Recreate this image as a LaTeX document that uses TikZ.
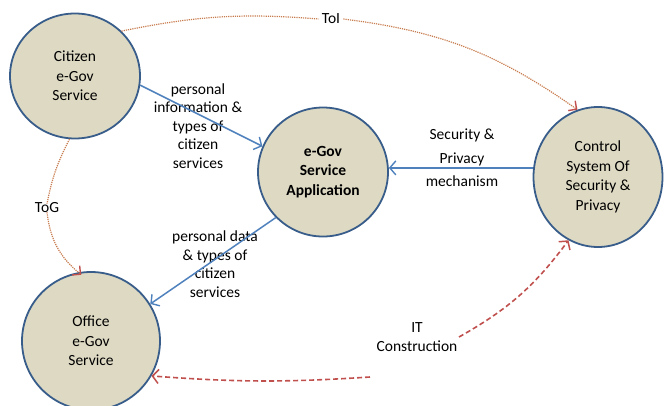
\documentclass[tikz,border=0pt]{standalone}
\usepackage{fontspec}
\setmainfont{Carlito}
\usetikzlibrary{shapes.geometric,arrows.meta}
\definecolor{fillc}{RGB}{221,217,195}
\definecolor{edgec}{RGB}{56,93,138}
\definecolor{bluel}{RGB}{79,129,189}
\definecolor{redl}{RGB}{192,80,77}
\definecolor{brownl}{RGB}{200,125,80}
\begin{document}
\begin{tikzpicture}[x=1pt,y=-1pt,
  blob/.style={ellipse, draw=edgec, fill=fillc, line width=1.8pt, inner sep=0pt, align=center, font=\fontsize{15.5}{19.5}\selectfont},
  lbl/.style={align=center, font=\fontsize{15.5}{18.5}\selectfont, inner sep=1pt},
  flow/.style={draw=bluel, line width=1.5pt, -{Straight Barb[length=6pt,width=14pt,line width=1.4pt]}},
  relation/.style={draw=brownl, line width=1.2pt, dash pattern=on 1.2pt off 1pt},
  reltip/.style={-{Straight Barb[length=6pt,width=12pt,line width=1.4pt,color=redl]}},
  build/.style={draw=redl, line width=1.6pt, dash pattern=on 5pt off 3pt},
  buildtip/.style={-{Straight Barb[length=6pt,width=14pt,line width=1.5pt]}}
]
\useasboundingbox (0,0) rectangle (664,405);

\node[blob, minimum width=130pt, minimum height=125pt] (cit) at (75,76) {Citizen\\e-Gov\\Service};
\node[blob, minimum width=130pt, minimum height=129pt] (app) at (323,172) {\bfseries e-Gov\\\bfseries Service\\\bfseries Application};
\node[blob, minimum width=129pt, minimum height=140pt] (ctl) at (598,177) {Control\\System Of\\Security \&\\Privacy};
\node[blob, minimum width=138pt, minimum height=138pt] (off) at (91,341) {Office\\e-Gov\\Service};

\node[lbl] (l1) at (198,126) {personal\\information \&\\types of\\citizen\\services};
\node[lbl, font=\fontsize{15.5}{23.5}\selectfont] (l2) at (462,158) {Security \&\\Privacy\\mechanism};
\node[lbl] (l3) at (215,264) {personal data\\\& types of\\citizen\\services};
\node[lbl] (toi) at (331,19) {ToI};
\node[lbl] (tog) at (47,208) {ToG};
\node[lbl] (it) at (417,337) {IT\\Construction};

\coordinate (itA) at (370,377);
\coordinate (itB) at (459,337);

\draw[flow] (cit.-8) -- (app.157);
\draw[flow] (app.224) -- (off.32);
\draw[flow] (ctl.172) -- (app.east |- ctl.172);

\draw[relation] (cit.44) to[bend left=8] ([xshift=-2pt]toi.west);
\draw[relation, reltip] ([xshift=2pt]toi.east) to[bend left=14] (ctl.107);
\draw[relation] (cit.265) to[bend right=8] ([yshift=-2pt]tog.north);
\draw[relation, reltip] ([yshift=2pt]tog.south) to[bend right=22] ([yshift=-3pt]off.98);

\draw[build, buildtip] (itA) to[bend left=4] (off.-30);
\draw[build, buildtip] (itB) to[bend right=12] (ctl.245);
\end{tikzpicture}
\end{document}
